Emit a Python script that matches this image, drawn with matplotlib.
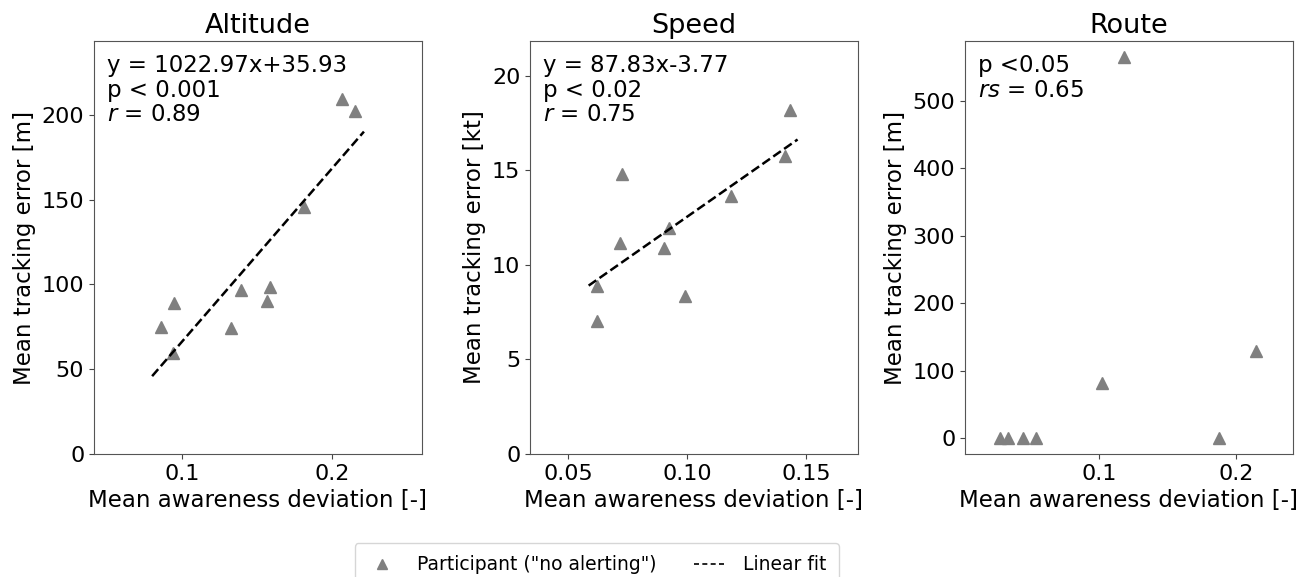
import matplotlib
matplotlib.use("Agg")
import matplotlib.pyplot as plt
import numpy as np

# Altitude panel
alt_x = [0.0858, 0.0947, 0.0940, 0.1322, 0.1390, 0.1565, 0.1585, 0.1814, 0.2067, 0.2151]
alt_y = [75.1, 89.3, 59.8, 74.5, 96.6, 90.3, 98.7, 145.5, 209.2, 202.0]
alt_fit_x = [0.080, 0.221]
alt_fit = (1022.97, -35.93)
alt_text = "y = 1022.97x+35.93\np < 0.001\n$r$ = 0.89"

# Speed panel
spd_x = [0.0621, 0.0621, 0.0715, 0.0725, 0.0903, 0.0923, 0.0990, 0.1185, 0.1411, 0.1435]
spd_y = [8.89, 7.04, 11.18, 14.80, 10.88, 11.94, 8.38, 13.63, 15.77, 18.20]
spd_fit_x = [0.0585, 0.1465]
spd_fit = (87.83, 3.77)
spd_text = "y = 87.83x-3.77\np < 0.02\n$r$ = 0.75"

# Route panel
rte_x = [0.0277, 0.0338, 0.0443, 0.0540, 0.1020, 0.1182, 0.1873, 0.2144]
rte_y = [0.0, 0.0, 0.0, 0.0, 81.5, 565.7, 0.0, 129.4]
rte_text = "p <0.05\n$rs$ = 0.65"

titles = ["Altitude", "Speed", "Route"]
ylabels = ["Mean tracking error [m]", "Mean tracking error [kt]", "Mean tracking error [m]"]
xlabel = "Mean awareness deviation [-]"

fig = plt.figure(figsize=(13.09, 5.77), dpi=100)
lefts = [0.0718, 0.4049, 0.7372]
axes = [fig.add_axes([l, 0.2132, 0.2503, 0.7158]) for l in lefts]

mk = dict(marker="^", color="#808080", markersize=8.5, linestyle="none")
ln = dict(color="k", linestyle="--", linewidth=1.8)

ax = axes[0]
ax.plot(alt_x, alt_y, **mk)
fx = np.array(alt_fit_x)
ax.plot(fx, alt_fit[0] * fx + alt_fit[1], **ln)
ax.set_xlim(0.0413, 0.2594)
ax.set_ylim(0, 243.6)
ax.set_xticks([0.1, 0.2])
ax.set_xticklabels(["0.1", "0.2"])
ax.set_yticks([0, 50, 100, 150, 200])
ax.text(0.04, 0.968, alt_text, transform=ax.transAxes, va="top", ha="left",
        fontsize=16.5, linespacing=1.08)

ax = axes[1]
ax.plot(spd_x, spd_y, **mk)
fx = np.array(spd_fit_x)
ax.plot(fx, spd_fit[0] * fx + spd_fit[1], **ln)
ax.set_xlim(0.0338, 0.1718)
ax.set_ylim(0, 21.85)
ax.set_xticks([0.05, 0.10, 0.15])
ax.set_xticklabels(["0.05", "0.10", "0.15"])
ax.set_yticks([0, 5, 10, 15, 20])
ax.text(0.04, 0.968, spd_text, transform=ax.transAxes, va="top", ha="left",
        fontsize=16.5, linespacing=1.08)

ax = axes[2]
ax.plot(rte_x, rte_y, **mk)
ax.set_xlim(0.0022, 0.2411)
ax.set_ylim(-23.2, 589)
ax.set_xticks([0.1, 0.2])
ax.set_xticklabels(["0.1", "0.2"])
ax.set_yticks([0, 100, 200, 300, 400, 500])
ax.text(0.04, 0.968, rte_text, transform=ax.transAxes, va="top", ha="left",
        fontsize=16.5, linespacing=1.08)

for ax, t, yl in zip(axes, titles, ylabels):
    ax.set_title(t, fontsize=19.5, pad=6)
    ax.set_xlabel(xlabel, fontsize=16.5, labelpad=4)
    ax.set_ylabel(yl, fontsize=16.5, labelpad=4)
    ax.tick_params(labelsize=16, color="#444444")
    for s in ax.spines.values():
        s.set_color("#555555")

h1 = plt.Line2D([], [], marker="^", color="#808080", markersize=7, linestyle="none")
h2 = plt.Line2D([], [], color="k", linestyle="--", linewidth=1.2, dashes=(3, 2))
fig.legend([h1, h2], ['Participant ("no alerting")', "Linear fit"],
           loc="upper left", bbox_to_anchor=(0.271, 0.059), borderaxespad=0,
           ncol=2, fontsize=13.5, frameon=True, handlelength=1.6,
           handletextpad=1.05, columnspacing=2.0, borderpad=0.65)

fig.savefig("out.png", dpi=100)
